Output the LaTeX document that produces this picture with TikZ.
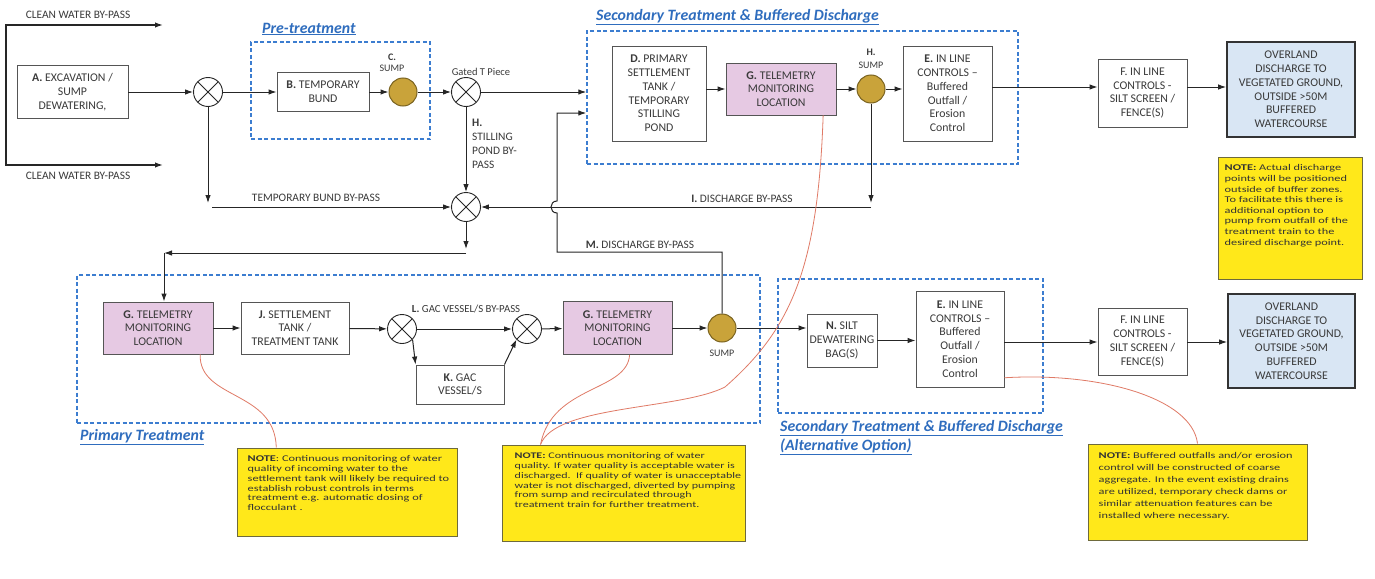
\documentclass[tikz,border=0pt]{standalone}
\usepackage{fontspec}
\setmainfont{Carlito}
\newfontfamily\notefont{Carlito}[FakeStretch=1.4]
\usetikzlibrary{arrows.meta,calc}
\definecolor{txt}{HTML}{3A3A3A}
\definecolor{bord}{HTML}{555555}
\definecolor{grpblue}{HTML}{3C7DD0}
\definecolor{lblblue}{HTML}{2F6DBE}
\definecolor{pinkf}{HTML}{E6C9E3}
\definecolor{bluef}{HTML}{D9E6F4}
\definecolor{goldf}{HTML}{C9A33A}
\definecolor{goldd}{HTML}{7A6320}
\definecolor{notef}{HTML}{FFE81A}
\definecolor{noted}{HTML}{6E6A3C}
\definecolor{leadc}{HTML}{E07A66}
\begin{document}
\begin{tikzpicture}[x=1pt,y=-1pt,
  box/.style={draw=bord, line width=0.9pt, fill=white, align=center, font=\fontsize{11.8}{13.8}\selectfont, text=txt, inner sep=1pt},
  tele/.style={box, fill=pinkf},
  outbox/.style={box, draw=black!80, line width=1.8pt, fill=bluef},
  valve/.style={circle, draw=black!85, line width=0.9pt, fill=white, minimum size=29pt, inner sep=0pt,
    path picture={\draw[line width=0.9pt, black!85] (path picture bounding box.north west) -- (path picture bounding box.south east) (path picture bounding box.north east) -- (path picture bounding box.south west);}},
  sump/.style={circle, draw=goldd, line width=1pt, fill=goldf, minimum size=28pt, inner sep=0pt},
  grp/.style={draw=grpblue, dash pattern=on 4pt off 2.5pt, line width=1.5pt},
  arr/.style={-{Latex[length=8pt,width=5.5pt]}, line width=1pt, draw=black!85},
  lbl/.style={font=\fontsize{11.4}{14}\selectfont, text=txt, inner sep=0pt, align=center},
  grplbl/.style={font=\fontsize{15.8}{19}\selectfont\bfseries\itshape, text=lblblue, inner sep=0pt, align=left},
  note/.style={draw=noted, line width=1pt, fill=notef},
  notetext/.style={text=black!80, align=left, inner sep=0pt},
  lead/.style={draw=leadc, line width=0.8pt}]
\fill[white] (0,0) rectangle (1375,578);
\useasboundingbox (0,0) rectangle (1375,578);

% group boxes
\node[grp, minimum width=179, minimum height=97] (pre) at (340.5,90.5) {};
\node[grp, minimum width=431, minimum height=133] (sec) at (802.5,97.5) {};
\node[grp, minimum width=683, minimum height=148] (prim) at (418.5,349) {};
\node[grp, minimum width=265, minimum height=134] (alt) at (910.5,346) {};

\node[grplbl, anchor=west] (lpre) at (262,29) {\underline{Pre-treatment}};
\node[grplbl, anchor=west] (lsec) at (596,17) {\underline{Secondary Treatment \& Buffered Discharge}};
\node[grplbl, anchor=west] (lprim) at (80,437) {\underline{Primary Treatment}};
\node[grplbl, anchor=north west] (lalt) at (780,420) {\underline{Secondary Treatment \& Buffered Discharge}\\\underline{(Alternative Option)}};

% clean water by-pass
\coordinate (cwT) at (163,25);
\coordinate (cwTL) at (6,25);
\coordinate (cwBL) at (6,165);
\coordinate (cwB) at (163,165);
\draw[{Latex[length=8pt,width=5.5pt]}-{Latex[length=8pt,width=5.5pt]}, line width=1.5pt, black!85] (cwT) -- (cwTL) -- (cwBL) -- (cwB);
\node[lbl] (lcw1) at (78,15) {CLEAN WATER BY-PASS};
\node[lbl] (lcw2) at (78,176) {CLEAN WATER BY-PASS};

% top row
\node[box, minimum width=111, minimum height=53] (A) at (72.5,92) {\textbf{A.} EXCAVATION /\\SUMP\\DEWATERING,};
\node[valve] (v1) at (208,92) {};
\node[box, minimum width=92, minimum height=39] (B) at (323,92) {\textbf{B.} TEMPORARY\\BUND};
\node[sump] (C) at (403,92) {};
\node[lbl, font=\fontsize{10}{11.5}\selectfont] (lC) at (392,63) {\textbf{C.}\\SUMP};
\node[valve] (v2) at (466,92) {};
\node[lbl, font=\fontsize{10.5}{12}\selectfont] (lv2) at (481,72) {Gated T Piece};
\node[valve] (v3) at (466,207) {};
\node[lbl, anchor=north west, align=left] (lHs) at (472,119) {\textbf{H.}\\STILLING\\POND BY-\\PASS};

\node[box, minimum width=94, minimum height=95] (D) at (659,93.5) {\textbf{D.} PRIMARY\\SETTLEMENT\\TANK /\\TEMPORARY\\STILLING\\POND};
\node[tele, minimum width=110, minimum height=52] (Gt) at (781,89) {\textbf{G.} TELEMETRY\\MONITORING\\LOCATION};
\node[sump] (H) at (871,89) {};
\node[lbl, font=\fontsize{10}{12.5}\selectfont] (lH) at (871,59) {\textbf{H.}\\SUMP};
\node[box, minimum width=89, minimum height=95] (E1) at (947.5,93.5) {\textbf{E.} IN LINE\\CONTROLS --\\Buffered\\Outfall /\\Erosion\\Control};
\node[box, minimum width=89, minimum height=68] (F1) at (1142.5,93) {F. IN LINE\\CONTROLS -\\SILT SCREEN /\\FENCE(S)};
\node[outbox, minimum width=128, minimum height=95] (O1) at (1291,89.5) {OVERLAND\\DISCHARGE TO\\VEGETATED GROUND,\\OUTSIDE >50M\\BUFFERED\\WATERCOURSE};

% bottom row
\node[tele, minimum width=110, minimum height=52] (G1) at (158,328) {\textbf{G.} TELEMETRY\\MONITORING\\LOCATION};
\node[box, minimum width=108, minimum height=52] (J) at (295,328) {\textbf{J.} SETTLEMENT\\TANK /\\TREATMENT TANK};
\node[valve] (L1) at (402,329) {};
\node[valve] (L2) at (527,329) {};
\node[lbl, font=\fontsize{10.8}{13}\selectfont] (lL) at (466,309) {\textbf{L.} GAC VESSEL/S BY-PASS};
\node[box, minimum width=88, minimum height=39] (K) at (460,384.5) {\textbf{K.} GAC\\VESSEL/S};
\node[tele, minimum width=109, minimum height=53] (G2) at (617.5,328) {\textbf{G.} TELEMETRY\\MONITORING\\LOCATION};
\node[sump] (S2) at (722,328) {};
\node[lbl, font=\fontsize{10}{11}\selectfont] (lS2) at (722,353) {SUMP};
\node[box, minimum width=70, minimum height=53] (N) at (842,340.5) {\textbf{N.} SILT\\DEWATERING\\BAG(S)};
\node[box, minimum width=88, minimum height=96] (E2) at (960,339) {\textbf{E.} IN LINE\\CONTROLS --\\Buffered\\Outfall /\\Erosion\\Control};
\node[box, minimum width=89, minimum height=67] (F2) at (1142.5,341.5) {F. IN LINE\\CONTROLS -\\SILT SCREEN /\\FENCE(S)};
\node[outbox, minimum width=127, minimum height=94] (O2) at (1291.5,341) {OVERLAND\\DISCHARGE TO\\VEGETATED GROUND,\\OUTSIDE >50M\\BUFFERED\\WATERCOURSE};

% top connectors
\draw[arr] (A) -- (v1);
\draw[arr] (v1) -- (B);
\draw[arr] (B) -- (C);
\draw[arr] (C) -- (v2);
\draw[arr] (v2) -- (v2 -| sec.west);
\draw[arr] (v2) -- (v3);
\draw[arr] (D.east |- Gt) -- (Gt);
\draw[arr] (Gt) -- (H);
\draw[arr] (H) -- (H -| E1.west);
\coordinate (r1) at (0,87);
\draw[arr] (E1.east |- r1) -- (F1.west |- r1);
\draw[arr] (F1.east |- r1) -- (O1.west |- r1);

% by-pass connectors
\coordinate (c1) at (208,203);
\draw[arr] (v1) -- (c1);
\coordinate (c2) at (212,207);
\draw[arr] (c2) -- (v3);
\node[lbl] (lTB) at (316,198) {TEMPORARY BUND BY-PASS};
\coordinate (hI1) at (871,203);
\draw[arr] (H) -- (hI1);
\coordinate (hI2) at (871,207);
\draw[arr] (hI2) -- (v3);
\node[lbl] (lI) at (742,199) {\textbf{I.} DISCHARGE BY-PASS};
\coordinate (pb1) at (466,249);
\draw[arr] (v3) -- (pb1);
\coordinate (pb2) at (466,253);
\coordinate (pb3) at (164,253);
\draw[arr] (pb2) -- (pb3);
\draw[arr] (pb3) -- (pb3 |- G1.north);

% M discharge by-pass with hop
\coordinate (m1) at (722,252);
\coordinate (m2) at (557,252);
\coordinate (m3) at (557,213);
\coordinate (m4) at (557,201);
\coordinate (m5) at (557,113);
\draw[arr] (S2.north) -- (m1) -- (m2) -- (m3) .. controls (549,213) and (549,201) .. (m4) -- (m5) -- (m5 -| sec.west);
\node[lbl] (lM) at (640,245) {\textbf{M.} DISCHARGE BY-PASS};

% bottom connectors
\draw[arr] (G1) -- (J);
\draw[arr] (J) -- (L1);
\draw[arr] (L1) -- (L2);
\draw[arr] (L1.south east) -- (K.north west);
\draw[arr] (K.north east) -- (L2.south west);
\draw[arr] (L2) -- (G2);
\draw[arr] (G2) -- (S2);
\draw[arr] (S2) -- (S2 -| N.west);
\draw[arr] (N) -- (N -| E2.west);
\coordinate (r2) at (0,342);
\draw[arr] (E2.east |- r2) -- (F2.west |- r2);
\draw[arr] (F2.east |- r2) -- (O2.west |- r2);

% notes
\node[note, minimum width=144, minimum height=122] (n1) at (1290,218) {};
\node[notetext, anchor=north west, font=\notefont\fontsize{8.8}{10.6}\selectfont] (n1t) at ($(n1.north west)+(7,8)$) {\textbf{NOTE:} Actual discharge\\points will be positioned\\outside of buffer zones.\\To facilitate this there is\\additional option to\\pump from outfall of the\\treatment train to the\\desired discharge point.};

\node[note, minimum width=220, minimum height=88] (nA) at (347,492) {};
\node[notetext, anchor=north west, font=\notefont\fontsize{8.8}{9.8}\selectfont] (nAt) at ($(nA.north west)+(11,8)$) {\textbf{NOTE}: Continuous monitoring of water\\quality of incoming water to the\\settlement tank will likely be required to\\establish robust controls in terms\\treatment e.g. automatic dosing of\\flocculant .};

\node[note, minimum width=243, minimum height=96] (nB) at (623.5,493) {};
\node[notetext, anchor=north west, font=\notefont\fontsize{8.6}{9.8}\selectfont] (nBt) at ($(nB.north west)+(13,8)$) {\textbf{NOTE:} Continuous monitoring of water\\quality. If water quality is acceptable water is\\discharged.\ \ If quality of water is unacceptable\\water is not discharged, diverted by pumping\\from sump and recirculated through\\treatment train for further treatment.};

\node[note, minimum width=219, minimum height=96] (nC) at (1197.5,492) {};
\node[notetext, anchor=north west, font=\notefont\fontsize{8.8}{12}\selectfont] (nCt) at ($(nC.north west)+(11,9)$) {\textbf{NOTE:} Buffered outfalls and/or erosion\\control will be constructed of coarse\\aggregate. In the event existing drains\\are utilized, temporary check dams or\\similar attenuation features can be\\installed where necessary.};

% leader curves
\draw[lead] ($(G1.south west)!0.88!(G1.south east)$) .. controls (199,400) and (275,390) .. ($(nA.north west)!0.18!(nA.north east)$);
\draw[lead] ($(G2.south west)!0.61!(G2.south east)$) .. controls (627,392) and (552,385) .. ($(nB.north west)!0.16!(nB.north east)$);
\draw[lead] ($(Gt.south west)!0.88!(Gt.south east)$) .. controls (818,270) and (790,330) .. (725,387) .. controls (680,410) and (555,405) .. ($(nB.north west)!0.16!(nB.north east)$);
\draw[lead] ($(E2.north east)!0.9!(E2.south east)$) .. controls (1100,372) and (1192,398) .. ($(nC.north west)!0.5!(nC.north east)$);
\end{tikzpicture}
\end{document}
